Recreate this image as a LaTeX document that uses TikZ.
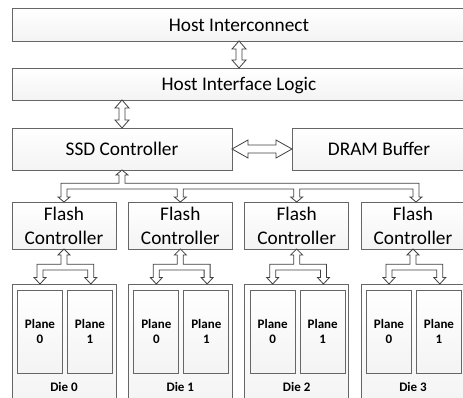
\documentclass[tikz,border=0pt]{standalone}
\usepackage{fontspec}
\setmainfont{Carlito}
\usetikzlibrary{calc}
\definecolor{boxline}{HTML}{666666}
\definecolor{arrline}{HTML}{404040}
\newcommand\vdarrow[2]{\draw[arr] let \p1=#1, \p2=#2 in
  (\x1,\y1) -- (\x1+7pt,\y1-8pt) -- (\x1+3pt,\y1-8pt) -- (\x1+3pt,\y2+8pt) -- (\x1+7pt,\y2+8pt)
  -- (\x1,\y2) -- (\x1-7pt,\y2+8pt) -- (\x1-3pt,\y2+8pt) -- (\x1-3pt,\y1-8pt) -- (\x1-7pt,\y1-8pt) -- cycle;}
\begin{document}
\begin{tikzpicture}[x=1pt,y=-1pt,
  box/.style={draw=boxline, line width=0.9pt, top color=white, bottom color=gray!9,
    inner sep=0pt, outer sep=0pt, anchor=center},
  bigtxt/.style={font=\fontsize{19.3}{24}\selectfont, text height=13.5pt, text depth=0pt},
  fctxt/.style={font=\fontsize{19.3}{24}\selectfont, align=center},
  smalltxt/.style={font=\fontsize{13}{15.7}\selectfont\bfseries, align=center},
  arr/.style={draw=arrline, fill=white, line width=0.8pt, line join=miter}]
\useasboundingbox (0,0) rectangle (463,398);
\clip (0,0) rectangle (463,398);
% top boxes
\node[box, bigtxt, minimum width=454pt, minimum height=33pt] (hc) at (239,24.5) {Host Interconnect};
\node[box, bigtxt, minimum width=454pt, minimum height=32pt] (hil) at (239,84) {Host Interface Logic};
\node[box, bigtxt, minimum width=220pt, minimum height=42pt] (ssd) at (122,149) {SSD Controller};
\node[box, bigtxt, minimum width=174pt, minimum height=42pt] (dram) at (379,149) {DRAM Buffer};
% columns
\foreach \i in {0,1,2,3}{
  \pgfmathsetmacro\xo{12+116.33*\i}
  \node[box, fctxt, minimum width=104pt, minimum height=47pt] (fc\i) at (\xo+52,225.5) {Flash\\Controller};
  \node[box, minimum width=104pt, minimum height=130pt] (die\i) at (\xo+52,349) {};
  \node[box, smalltxt, minimum width=45pt, minimum height=83pt] (pla\i) at (\xo+28,331.5) {Plane\\0};
  \node[box, smalltxt, minimum width=45pt, minimum height=83pt] (plb\i) at (\xo+78,331.5) {Plane\\1};
  \node[smalltxt, anchor=base, inner sep=0pt] (dlab\i) at (\xo+52,391) {Die \i};
  \draw[arr] let \p0=(fc\i.south), \p1=(pla\i |- die\i.north), \p2=($(plb\i |- die\i.north)+(0.8,0)$) in
    (\x0,\y0) -- (\x0+6pt,\y0-6pt) -- (\x0+3pt,\y0-6pt) -- (\x0+3pt,\y0-15.3pt) -- (\x2+3pt,\y0-15.3pt)
    -- (\x2+3pt,\y1+6.5pt) -- (\x2+6pt,\y1+6.5pt) -- (\x2,\y1) -- (\x2-6pt,\y1+6.5pt) -- (\x2-3pt,\y1+6.5pt)
    -- (\x2-3pt,\y1+14pt) -- (\x1+3pt,\y1+14pt) -- (\x1+3pt,\y1+6.5pt) -- (\x1+6pt,\y1+6.5pt) -- (\x1,\y1)
    -- (\x1-6pt,\y1+6.5pt) -- (\x1-3pt,\y1+6.5pt) -- (\x1-3pt,\y0-15.3pt) -- (\x0-3pt,\y0-15.3pt)
    -- (\x0-3pt,\y0-6pt) -- (\x0-6pt,\y0-6pt) -- cycle;
}
% vertical double arrows
\vdarrow{(hc.south)}{(hil.north)}
\vdarrow{(hil.south -| ssd.north)}{(ssd.north)}
% horizontal double arrow
\draw[arr] let \p1=(ssd.east), \p2=(dram.west) in
  (\x1,\y1) -- (\x1+16pt,\y1+9pt) -- (\x1+16pt,\y1+4pt) -- (\x2-16pt,\y1+4pt) -- (\x2-16pt,\y1+9pt)
  -- (\x2,\y1) -- (\x2-16pt,\y1-9pt) -- (\x2-16pt,\y1-4pt) -- (\x1+16pt,\y1-4pt) -- (\x1+16pt,\y1-9pt) -- cycle;
% bus from SSD controller to flash controllers
\draw[arr] let \p0=(ssd.south), \p1=(fc0.north), \p2=(fc1.north), \p3=(fc2.north), \p4=($(fc3.north)+(3,0)$) in
  (\x0,\y0) -- (\x0+6pt,\y0-5pt) -- (\x0+3pt,\y0-5pt) -- (\x0+3pt,\y0-13.3pt) -- (\x4+3pt,\y0-13.3pt)
  -- (\x4+3pt,\y1+5pt) -- (\x4+6pt,\y1+5pt) -- (\x4,\y1) -- (\x4-6pt,\y1+5pt) -- (\x4-3pt,\y1+5pt)
  -- (\x4-3pt,\y1+13pt) -- (\x3+3pt,\y1+13pt) -- (\x3+3pt,\y1+5pt) -- (\x3+6pt,\y1+5pt) -- (\x3,\y1)
  -- (\x3-6pt,\y1+5pt) -- (\x3-3pt,\y1+5pt) -- (\x3-3pt,\y1+13pt) -- (\x2+3pt,\y1+13pt)
  -- (\x2+3pt,\y1+5pt) -- (\x2+6pt,\y1+5pt) -- (\x2,\y1) -- (\x2-6pt,\y1+5pt) -- (\x2-3pt,\y1+5pt)
  -- (\x2-3pt,\y1+13pt) -- (\x1+3pt,\y1+13pt) -- (\x1+3pt,\y1+5pt) -- (\x1+6pt,\y1+5pt) -- (\x1,\y1)
  -- (\x1-6pt,\y1+5pt) -- (\x1-3pt,\y1+5pt) -- (\x1-3pt,\y0-13.3pt) -- (\x0-3pt,\y0-13.3pt)
  -- (\x0-3pt,\y0-5pt) -- (\x0-6pt,\y0-5pt) -- cycle;
\end{tikzpicture}
\end{document}
